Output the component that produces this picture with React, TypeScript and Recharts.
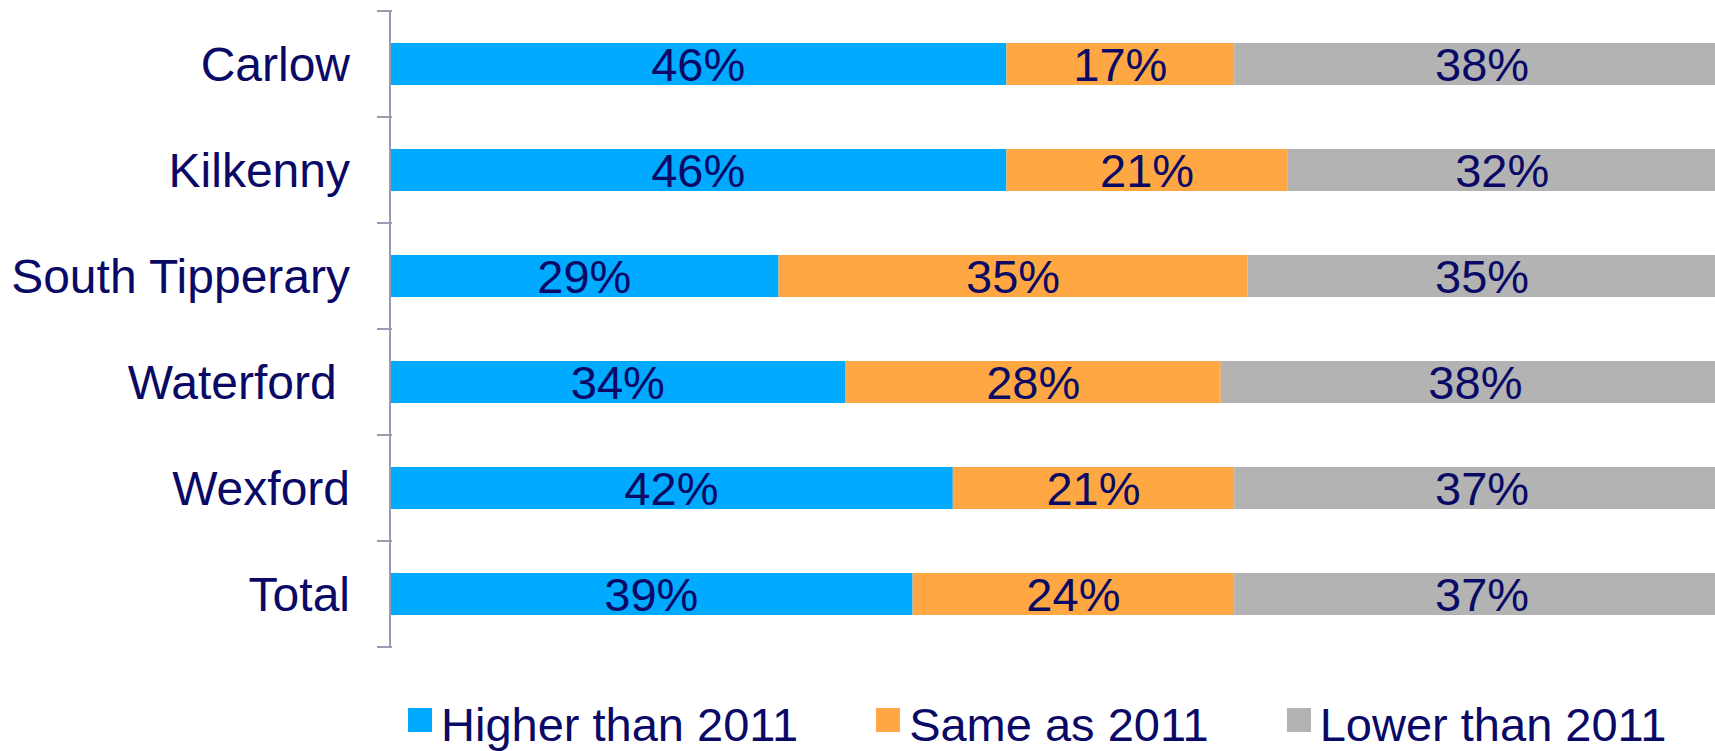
import React from 'react';
import { BarChart, Bar, XAxis, YAxis, LabelList } from 'recharts';

const categories = ['Carlow', 'Kilkenny', 'South Tipperary', 'Waterford\u00a0', 'Wexford', 'Total'];
const higher = [46, 46, 29, 34, 42, 39];
const same = [17, 21, 35, 28, 21, 24];
const lower = [38, 32, 35, 38, 37, 37];

const seriesNames = ['Higher than 2011', 'Same as 2011', 'Lower than 2011'];
const colors = ['#00AAFF', '#FFA843', '#B3B3B3'];

const NAVY = '#0A0A66';
const AXIS = '#9A9AB0';
const FONT = '"Liberation Sans", Arial, sans-serif';

const CHART_W = 1750;
const CHART_H = 751;
const TOP = 11;
const BOTTOM = 104;
const AXIS_W = 390;
const PLOT_H = CHART_H - TOP - BOTTOM;
const BAND = PLOT_H / categories.length;

const data = categories.map((name, i) => ({
  name,
  higher: higher[i],
  same: same[i],
  lower: lower[i],
}));

const CategoryTick = (props: any) => {
  const { x, y, payload, index } = props;
  const half = BAND / 2;
  const last = index === categories.length - 1;
  return (
    <g>
      <text x={x} y={y} dy={17} textAnchor="end" fill={NAVY} fontSize={48} fontFamily={FONT}>
        {payload.value}
      </text>
      <line x1={x + 27} x2={x + 42} y1={y - half} y2={y - half} stroke={AXIS} strokeWidth={2} />
      {last && <line x1={x + 27} x2={x + 42} y1={y + half} y2={y + half} stroke={AXIS} strokeWidth={2} />}
    </g>
  );
};

const BarLabel = (props: any) => {
  const { x, y, width, height, value } = props;
  return (
    <text
      x={x + width / 2}
      y={y + height / 2}
      dy={17}
      textAnchor="middle"
      fill={NAVY}
      fontSize={47}
      fontFamily={FONT}
    >
      {value}%
    </text>
  );
};

export default function App() {
  return (
    <div
      style={{
        position: 'absolute',
        left: 0,
        top: 0,
        width: 1715,
        height: 751,
        overflow: 'hidden',
        background: '#fff',
        fontFamily: FONT,
      }}
    >
      <BarChart
        width={CHART_W}
        height={CHART_H}
        data={data}
        layout="vertical"
        margin={{ top: TOP, right: 20, left: 0, bottom: BOTTOM }}
        barSize={42}
      >
        <XAxis type="number" domain={[0, 100]} allowDataOverflow hide />
        <YAxis
          type="category"
          dataKey="name"
          width={AXIS_W}
          tickLine={false}
          tickSize={13}
          tickMargin={27}
          axisLine={{ stroke: AXIS, strokeWidth: 2 }}
          tick={<CategoryTick />}
          interval={0}
        />
        <Bar dataKey="higher" stackId="a" fill={colors[0]} isAnimationActive={false}>
          <LabelList dataKey="higher" content={<BarLabel />} />
        </Bar>
        <Bar dataKey="same" stackId="a" fill={colors[1]} isAnimationActive={false}>
          <LabelList dataKey="same" content={<BarLabel />} />
        </Bar>
        <Bar dataKey="lower" stackId="a" fill={colors[2]} isAnimationActive={false}>
          <LabelList dataKey="lower" content={<BarLabel />} />
        </Bar>
      </BarChart>
      <div
        style={{
          position: 'absolute',
          left: 408,
          top: 701,
          display: 'flex',
          gap: 78,
          fontSize: 47,
          lineHeight: '47px',
          color: NAVY,
          whiteSpace: 'nowrap',
        }}
      >
        {seriesNames.map((s, i) => (
          <div key={s} style={{ display: 'flex', alignItems: 'flex-start' }}>
            <div style={{ width: 24, height: 24, marginTop: 7, marginRight: 9, background: colors[i] }} />
            <span>{s}</span>
          </div>
        ))}
      </div>
    </div>
  );
}
